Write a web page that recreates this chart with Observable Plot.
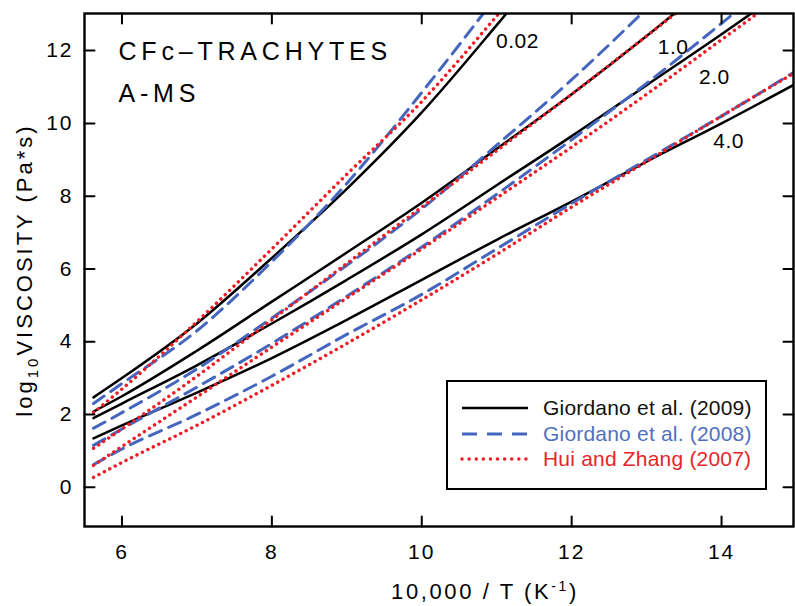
<!DOCTYPE html>
<html><head><meta charset="utf-8">
<script src="https://cdn.jsdelivr.net/npm/d3@7"></script>
<script src="https://cdn.jsdelivr.net/npm/@observablehq/plot@0.6"></script>
<style>
body{margin:0;background:#fff;font-family:"Liberation Sans",Arial,Helvetica,sans-serif;}
#chart{position:relative;width:795px;height:606px;}
#legend{position:absolute;left:446px;top:380px;width:317px;height:106px;border:2px solid #000;background:#fff;}
.lrow{position:absolute;left:0;height:26px;display:flex;align-items:center;font-size:21px;white-space:nowrap;letter-spacing:0.2px;}
.lrow svg{margin-left:12px;margin-right:13px;}
g[aria-label="x-axis tick label"] text, g[aria-label="y-axis tick label"] text{letter-spacing:2px;}
</style></head><body><div id="chart"></div>
<script>
// 10,000 / T grid (K^-1)
const xs = [5.62, 6, 7, 8, 9, 10, 11, 12, 13, 14, 15];
// log10 viscosity, Giordano et al. (2009) — black solid
const g09_002 = [2.47, 3.0, 4.5, 6.3, 8.2, 10.3, 12.7, 15.2, null, null, null];
const g09_10  = [2.08, 2.5, 3.75, 5.1, 6.45, 7.82, 9.3, 10.8, 12.4, 14.1, null];
const g09_20  = [1.9, 2.3, 3.35, 4.5, 5.7, 6.95, 8.3, 9.65, 11.05, 12.45, 13.9];
const g09_40  = [1.34, 1.7, 2.6, 3.55, 4.6, 5.7, 6.8, 7.85, 8.95, 10.0, 11.1];
// Giordano et al. (2008) — blue dashed
const g08_002 = [2.3, 2.85, 4.3, 6.2, 8.35, 10.85, 13.5, null, null, null, null];
const g08_10  = [1.62, 2.05, 3.25, 4.65, 6.1, 7.65, 9.4, 11.2, 13.15, null, null];
const g08_20  = [1.15, 1.6, 2.75, 3.95, 5.25, 6.6, 8.05, 9.55, 11.1, 12.75, 14.45];
const g08_40  = [0.62, 1.05, 2.0, 3.05, 4.2, 5.3, 6.55, 7.8, 9.0, 10.2, 11.45];
// Hui and Zhang (2007) — red dotted
const hz_002 = [2.05, 2.7, 4.55, 6.55, 8.6, 10.6, 12.95, 15.4, null, null, null];
const hz_10  = [1.07, 1.6, 3.05, 4.6, 6.15, 7.7, 9.25, 10.8, 12.4, 14.0, null];
const hz_20  = [0.6, 1.12, 2.48, 3.85, 5.2, 6.55, 7.95, 9.35, 10.8, 12.3, 13.8];
const hz_40  = [0.27, 0.68, 1.7, 2.8, 3.95, 5.15, 6.4, 7.7, 8.95, 10.2, 11.42];

const waterContents = ["0.02", "1.0", "2.0", "4.0"];
const models = ["Giordano et al. (2009)", "Giordano et al. (2008)", "Hui and Zhang (2007)"];
const modelColors = ["#000000", "#4566bf", "#ee1c24"];
const legendTextColors = ["#111111", "#4f6fc2", "#e8242b"];

const xTicks = [6, 8, 10, 12, 14];
const yTicks = [0, 2, 4, 6, 8, 10, 12];

// curve labels (water content, wt%)
const labelText = ["0.02", "1.0", "2.0", "4.0"];
const labelX = [10.99, 13.15, 13.70, 13.89];
const labelY = [12.06, 11.92, 11.09, 9.33];

const panelTitle = ["CFc–TRACHYTES", "A-MS"];
const xTitle = "10,000 / T (K-1)";
const yTitle = "log10 VISCOSITY (Pa*s)";

const seriesByModel = [
  [g09_002, g09_10, g09_20, g09_40],
  [g08_002, g08_10, g08_20, g08_40],
  [hz_002, hz_10, hz_20, hz_40]
];
const rows = seriesByModel.map((set, m) =>
  set.flatMap((ys, k) => xs.map((x, i) => ({x, y: ys[i], w: waterContents[k], model: models[m]})))
);

const tickShape = {draw(ctx, l) { ctx.moveTo(0, 0); ctx.lineTo(0, -l); }};
const tk = {length: 10, anchor: "start", shape: tickShape, stroke: "black", strokeWidth: 2};

const plot = Plot.plot({
  width: 795, height: 606,
  marginLeft: 84, marginRight: 2, marginTop: 13, marginBottom: 80,
  x: {domain: [5.5, 14.96]},
  y: {domain: [-1.08, 13.02]},
  style: {fontFamily: "Liberation Sans, Arial, sans-serif", fontSize: "21px", color: "black", background: "white", overflow: "visible"},
  marks: [
    Plot.line(rows[0], {x: "x", y: "y", z: "w", stroke: modelColors[0], strokeWidth: 2.5, curve: "monotone-x", clip: true}),
    Plot.line(rows[1], {x: "x", y: "y", z: "w", stroke: modelColors[1], strokeWidth: 3, strokeDasharray: "13,8", curve: "monotone-x", clip: true}),
    Plot.line(rows[2], {x: "x", y: "y", z: "w", stroke: modelColors[2], strokeWidth: 3.4, strokeDasharray: "0.1,6", strokeLinecap: "round", curve: "monotone-x", clip: true}),
    Plot.frame({stroke: "black", strokeWidth: 2.4}),
    Plot.vector(xTicks, {x: d => d, frameAnchor: "bottom", rotate: 0, ...tk}),
    Plot.vector(xTicks, {x: d => d, frameAnchor: "top", rotate: 180, ...tk}),
    Plot.vector(yTicks, {y: d => d, frameAnchor: "left", rotate: 90, ...tk}),
    Plot.vector(yTicks, {y: d => d, frameAnchor: "right", rotate: -90, ...tk}),
    Plot.axisX(xTicks, {tickSize: 0, tickPadding: 18, fontSize: 21, label: null}),
    Plot.axisY(yTicks, {tickSize: 0, tickPadding: 11, fontSize: 21, label: null}),
    Plot.text(labelText, {x: (d, i) => labelX[i], y: (d, i) => labelY[i], text: d => d, textAnchor: "start", lineAnchor: "bottom", fontSize: 21}),
    Plot.text([panelTitle[0]], {frameAnchor: "top-left", dx: 34, dy: 46, textAnchor: "start", lineAnchor: "bottom", fontSize: 25}),
    Plot.text([panelTitle[1]], {frameAnchor: "top-left", dx: 34, dy: 88, textAnchor: "start", lineAnchor: "bottom", fontSize: 25}),
    Plot.text([xTitle], {frameAnchor: "bottom", dx: 46, dy: 72, textAnchor: "middle", lineAnchor: "bottom", fontSize: 22}),
    Plot.text([yTitle], {frameAnchor: "left", dx: -60, rotate: -90, textAnchor: "middle", lineAnchor: "middle", fontSize: 22})
  ]
});

// text styling: tracking, sub/superscripts
d3.select(plot).selectAll("text").each(function() {
  const t = this.textContent;
  const s = d3.select(this);
  if (panelTitle.includes(t)) s.style("letter-spacing", "4.8px");
  else if (labelText.includes(t)) s.style("letter-spacing", "0.5px");
  else if (t === xTitle) {
    s.style("letter-spacing", "2.6px").text(null);
    s.append("tspan").text("10,000 / T (K");
    s.append("tspan").attr("dy", "-8").attr("font-size", "14").text("-1");
    s.append("tspan").attr("dy", "8").text(")");
  } else if (t === yTitle) {
    s.style("letter-spacing", "3px").text(null);
    s.append("tspan").text("log");
    s.append("tspan").attr("dy", "6").attr("font-size", "15").text("10");
    s.append("tspan").attr("dy", "-6").text("VISCOSITY (Pa*s)");
  }
});

const chart = document.getElementById("chart");
chart.appendChild(plot);

// legend
const legend = document.createElement("div");
legend.id = "legend";
const dashes = [null, "15,10", "0.1,7"];
const widths = [2.6, 3, 3.4];
const rowTops = [13, 39, 64];
models.forEach((name, i) => {
  const row = document.createElement("div");
  row.className = "lrow";
  row.style.top = rowTops[i] + "px";
  row.innerHTML = `<svg width="70" height="8"><line x1="2" x2="68" y1="4" y2="4" stroke="${modelColors[i]}" stroke-width="${widths[i]}" ${dashes[i] ? `stroke-dasharray="${dashes[i]}"` : ""} stroke-linecap="${i === 2 ? "round" : "butt"}"/></svg><span style="color:${legendTextColors[i]}">${name}</span>`;
  legend.appendChild(row);
});
chart.appendChild(legend);
</script></body></html>
